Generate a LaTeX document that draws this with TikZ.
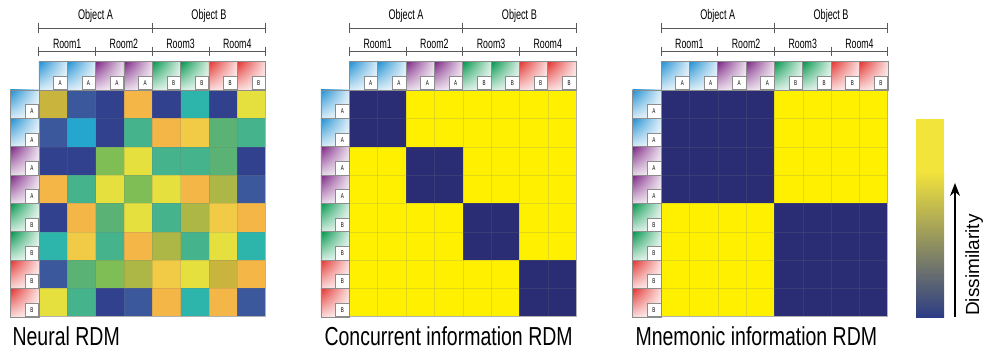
\documentclass[tikz,border=0pt]{standalone}
\usepackage{fontspec}
\setmainfont{Liberation Sans}[FakeStretch=0.75]
\newfontfamily\headfont{Liberation Sans}[FakeStretch=0.65]
\newfontfamily\barfont{Liberation Sans}
\usetikzlibrary{arrows.meta,shadings}

\definecolor{rdmnavy}{HTML}{2B2D74}
\definecolor{rdmyellow}{HTML}{FFF000}
\definecolor{icblue}{HTML}{1E8FD2}
\definecolor{icpurple}{HTML}{7A2382}
\definecolor{icgreen}{HTML}{00954A}
\definecolor{icred}{HTML}{E2322E}
\definecolor{cbyellow}{HTML}{F3E43C}
\definecolor{cbgray}{HTML}{7A7870}
\definecolor{cbblue}{HTML}{2C3C84}
\definecolor{vdark}{HTML}{31418E}
\definecolor{vblue}{HTML}{3B589C}
\definecolor{vcyan}{HTML}{24A6CE}
\definecolor{vteal}{HTML}{2DB5AB}
\definecolor{vtgreen}{HTML}{45B38C}
\definecolor{vgreen}{HTML}{5AB374}
\definecolor{vlgreen}{HTML}{7EBE55}
\definecolor{volive}{HTML}{ADB745}
\definecolor{vgold}{HTML}{C9B43E}
\definecolor{vyellow}{HTML}{E6E03F}
\definecolor{vyorange}{HTML}{F1CB45}
\definecolor{vorange}{HTML}{F4B646}

\tikzset{
  cell/.style={draw=white!45!black, draw opacity=0.2, line width=0.4pt},
  outer/.style={draw=black!30, line width=0.8pt},
  bracket/.style={draw=black!65, line width=0.8pt},
  grouplabel/.style={font=\headfont\fontsize{14}{14}\selectfont, anchor=base},
  roomlabel/.style={font=\headfont\fontsize{13.5}{13.5}\selectfont, anchor=base},
  iconframe/.style={draw=black!45, line width=0.6pt},
  letterbox/.style={draw=black!45, fill=white, line width=0.5pt, minimum size=13.5pt, inner sep=0pt, font=\headfont\fontsize{7}{7}\selectfont},
  rdmtitle/.style={font=\fontsize{26}{26}\selectfont, anchor=base west},
}

\newcommand\roomicon[5]{%
  \shade[upper left=#3, upper right=#3!18, lower left=#3!18, lower right=white] (#1,#2) rectangle ++(28.35,28.35);
  \draw[iconframe] (#1,#2) rectangle ++(28.35,28.35);
  \node[letterbox, anchor=south east] (#5) at (#1+28.35,#2+28.35) {#4};
}

\begin{document}
\begin{tikzpicture}[x=1pt,y=-1pt]
    \useasboundingbox (0,0) rectangle (989,353);

    \foreach \row [count=\i from 0] in {
        {vgold,vblue,vdark,vorange,vdark,vteal,vdark,vyellow},
        {vblue,vcyan,vdark,vtgreen,vorange,vyorange,vgreen,vtgreen},
        {vdark,vdark,vlgreen,vyellow,vtgreen,vtgreen,vgreen,vdark},
        {vorange,vtgreen,vyellow,vlgreen,vyellow,vorange,volive,vblue},
        {vdark,vorange,vgreen,vyellow,vtgreen,volive,vyorange,vorange},
        {vteal,vyorange,vtgreen,vorange,volive,vtgreen,vyellow,vteal},
        {vblue,vgreen,vlgreen,volive,vyorange,vyellow,vgold,vorange},
        {vyellow,vtgreen,vdark,vblue,vorange,vteal,vorange,vblue}}
      \foreach \c [count=\j from 0] in \row
        \fill[\c] (38.8+\j*28.35,90+\i*28.35) rectangle ++(28.35,28.35);

    \fill[rdmyellow] (349.3,90) rectangle ++(226.8,226.8);
    \foreach \b in {0,...,3}
      \fill[rdmnavy] (349.3+\b*56.7,90+\b*56.7) rectangle ++(56.7,56.7);

    \fill[rdmyellow] (661,90) rectangle ++(226.8,226.8);
    \foreach \b in {0,1}
      \fill[rdmnavy] (661+\b*113.4,90+\b*113.4) rectangle ++(113.4,113.4);

    \foreach \mx/\mi in {38.8/1,349.3/2,661/3} {
      \foreach \t in {1,...,7} {
        \draw[cell] (\mx+\t*28.35,90) -- ++(0,226.8);
        \draw[cell] (\mx,90+\t*28.35) -- ++(226.8,0);
      }
      \draw[outer] (\mx,90) rectangle ++(226.8,226.8);

      \draw[bracket] (\mx,28.5) -- ++(226.8,0);
      \foreach \t in {0,4,8}
        \draw[bracket] (\mx+\t*28.35,23.5) -- ++(0,10);
      \draw[bracket] (\mx,51.5) -- ++(226.8,0);
      \foreach \t in {0,2,...,8}
        \draw[bracket] (\mx+\t*28.35,47) -- ++(0,9);
      \node[grouplabel] (objA-\mi) at (\mx+56.7,20) {Object A};
      \node[grouplabel] (objB-\mi) at (\mx+170.1,20) {Object B};
      \foreach \r in {1,...,4}
        \node[roomlabel] (room\r-\mi) at (\mx+\r*56.7-28.35,48.5) {Room\r};

      \foreach \k/\col/\ltr in {0/icblue/A,1/icblue/A,2/icpurple/A,3/icpurple/A,4/icgreen/B,5/icgreen/B,6/icred/B,7/icred/B} {
        \roomicon{\mx+\k*28.35}{61.65}{\col}{\ltr}{top\k-\mi}
        \roomicon{\mx-28.35}{90+\k*28.35}{\col}{\ltr}{left\k-\mi}
      }
    }

    \node[rdmtitle] (neuraltitle) at (9,345) {Neural RDM};
    \node[rdmtitle] (concurtitle) at (321,345) {Concurrent information RDM};
    \node[rdmtitle] (mnemotitle) at (632,345) {Mnemonic information RDM};

    \fill[cbyellow] (916,119) rectangle (944,172);
    \shade[top color=cbyellow, middle color=cbgray, bottom color=cbblue] (916,171) rectangle (944,317);

    \coordinate (arrtail) at (955,317);
    \coordinate (arrhead) at (955,183);
    \draw[line width=1.3pt, -{Stealth[length=13pt,width=10pt]}] (arrtail) -- (arrhead);
    \node[rotate=90, anchor=base west, font=\barfont\fontsize{19}{19}\selectfont, inner sep=0pt] (dissim) at (979,316) {Dissimilarity};
\end{tikzpicture}
\end{document}
